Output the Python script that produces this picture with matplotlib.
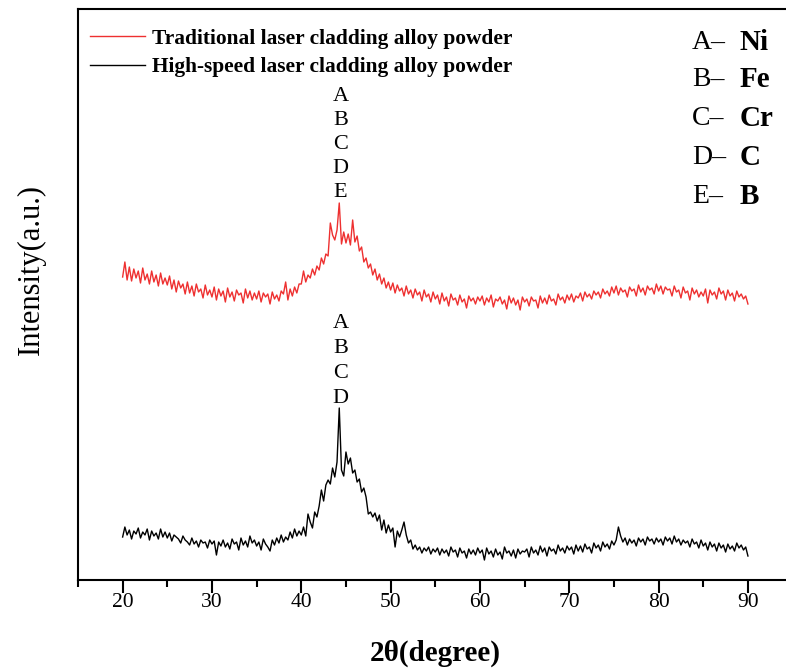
# ----------------------------------------------------------------------------
# XRD patterns of the two cladding alloy powders
# ----------------------------------------------------------------------------
import numpy as np
import matplotlib
matplotlib.use('Agg')
import matplotlib.pyplot as plt

# ----------------------------------------------------------------------------
# Data (2θ = 20..90 step 0.25, intensity in a.u.)
# ----------------------------------------------------------------------------
two_theta = np.arange(20, 90.001, 0.25)

traditional = [
    303, 318, 300, 313, 299, 311, 302, 309, 297, 312, 300, 306, 296, 309, 298, 305, 294, 307, 296, 302,
    295, 304, 291, 300, 288, 299, 292, 296, 286, 298, 287, 294, 284, 296, 288, 291, 282, 295, 285, 290,
    283, 293, 280, 291, 284, 289, 278, 292, 283, 288, 279, 290, 285, 287, 277, 291, 282, 289, 280, 287,
    281, 289, 278, 287, 283, 286, 276, 288, 281, 285, 279, 289, 286, 298, 280, 291, 284, 293, 287, 296,
    296, 309, 298, 305, 302, 311, 305, 314, 310, 322, 316, 326, 324, 357, 345, 340, 350, 377, 336, 348,
    337, 346, 335, 360, 338, 344, 329, 333, 318, 322, 312, 316, 305, 311, 300, 306, 296, 302, 292, 298,
    290, 297, 287, 295, 289, 292, 284, 294, 286, 290, 282, 291, 285, 288, 279, 290, 283, 286, 278, 288,
    281, 285, 276, 287, 279, 283, 274, 286, 280, 282, 275, 285, 278, 281, 272, 284, 279, 282, 276, 283,
    279, 284, 275, 282, 278, 285, 273, 281, 279, 283, 276, 280, 271, 284, 277, 282, 275, 280, 270, 283,
    278, 281, 274, 283, 279, 280, 272, 284, 277, 282, 276, 285, 279, 281, 275, 286, 280, 283, 277, 285,
    280, 286, 278, 284, 282, 287, 279, 288, 283, 286, 281, 289, 285, 288, 282, 291, 286, 289, 284, 293,
    287, 294, 285, 292, 288, 290, 283, 293, 289, 291, 284, 295, 288, 292, 285, 294, 290, 292, 286, 296,
    289, 294, 286, 293, 290, 291, 284, 294, 288, 290, 282, 293, 287, 289, 280, 292, 286, 290, 283, 288,
    284, 291, 277, 290, 285, 288, 281, 292, 286, 289, 280, 290, 284, 287, 279, 289, 283, 286, 281, 284,
    276,
]

high_speed = [
    43, 53, 45, 50, 41, 49, 46, 52, 42, 48, 45, 51, 40, 49, 44, 47, 41, 51, 43, 48,
    42, 47, 39, 45, 43, 41, 37, 44, 40, 38, 35, 42, 36, 39, 33, 40, 37, 38, 32, 40,
    36, 39, 25, 38, 34, 40, 33, 37, 31, 41, 36, 38, 30, 42, 35, 39, 33, 44, 37, 40,
    34, 38, 30, 41, 36, 33, 29, 40, 35, 42, 37, 45, 38, 43, 40, 48, 42, 51, 44, 49,
    45, 53, 44, 66, 58, 52, 68, 63, 74, 90, 79, 95, 100, 96, 112, 103, 118, 172, 110, 104,
    128, 116, 122, 107, 110, 98, 101, 88, 92, 83, 66, 68, 63, 67, 59, 65, 50, 60, 47, 55,
    48, 52, 33, 49, 43, 50, 58, 45, 37, 40, 31, 35, 30, 33, 27, 32, 29, 33, 26, 31,
    28, 32, 25, 31, 27, 30, 24, 33, 28, 30, 23, 32, 27, 29, 22, 31, 26, 30, 25, 32,
    27, 30, 20, 32, 26, 29, 23, 31, 25, 28, 21, 33, 27, 29, 24, 30, 22, 31, 26, 29,
    28, 31, 23, 33, 27, 30, 25, 34, 28, 32, 24, 33, 29, 31, 26, 35, 29, 32, 27, 34,
    30, 33, 26, 35, 29, 34, 28, 36, 31, 33, 27, 37, 32, 35, 29, 38, 33, 36, 31, 39,
    35, 40, 53, 44, 38, 42, 35, 41, 37, 40, 34, 42, 38, 41, 35, 43, 39, 41, 36, 42,
    38, 41, 35, 43, 39, 42, 36, 44, 38, 41, 35, 40, 37, 39, 33, 41, 36, 38, 32, 40,
    34, 37, 30, 38, 33, 36, 29, 37, 32, 35, 28, 36, 31, 34, 29, 37, 32, 35, 30, 33,
    24,
]

series_labels = ['Traditional laser cladding alloy powder',
                 'High-speed laser cladding alloy powder']
peak_position = 44.4
peak_letters_red = ['A', 'B', 'C', 'D', 'E']
peak_letters_black = ['A', 'B', 'C', 'D']
phase_keys = ['A', 'B', 'C', 'D', 'E']
phase_names = ['Ni', 'Fe', 'Cr', 'C', 'B']
x_ticks = [20, 30, 40, 50, 60, 70, 80, 90]

# ----------------------------------------------------------------------------
# Figure
# ----------------------------------------------------------------------------
plt.rcParams['font.family'] = 'Liberation Serif'

fig = plt.figure(figsize=(7.86, 6.71), dpi=100)
ax = fig.add_axes([0.0992, 0.1356, 0.9092, 0.8510])

ax.plot(two_theta, traditional, color='#ee3030', lw=1.0, label=series_labels[0])
ax.plot(two_theta, high_speed, color='black', lw=1.0, label=series_labels[1])

ax.set_xlim(15, 95)
ax.set_ylim(0, 571)

# axis styling
for side in ['left', 'bottom', 'top', 'right']:
    ax.spines[side].set_linewidth(1.5)
ax.set_yticks([])
ax.set_xticks(x_ticks)
ax.set_xticks(np.arange(15, 96, 10), minor=True)
ax.tick_params(axis='x', which='major', direction='out', length=9, width=1.5,
               labelsize=15.5, pad=0)
ax.tick_params(axis='x', which='minor', direction='out', length=5, width=1.5)

ax.set_xlabel('2θ(degree)', fontsize=21, fontweight='bold', labelpad=20)
ax.set_ylabel('Intensity(a.u.)', fontsize=22)
ax.yaxis.set_label_coords(-0.045, 0.543)

# peak labels
ax.text(peak_position, 378, '\n'.join(peak_letters_red), ha='center', va='bottom',
        fontsize=16, linespacing=1.36)
ax.text(peak_position, 172, '\n'.join(peak_letters_black), ha='center', va='bottom',
        fontsize=16, linespacing=1.42)

# phase list (top right)
row_y = [0.942, 0.877, 0.809, 0.740, 0.672]
for key, name, yy in zip(phase_keys, phase_names, row_y):
    ax.text(0.859, yy, key + '–', transform=ax.transAxes, fontsize=20, va='center')
    ax.text(0.926, yy, name, transform=ax.transAxes, fontsize=21,
            fontweight='bold', va='center')

# legend
leg = ax.legend(loc='upper left', bbox_to_anchor=(-0.003, 0.99), frameon=False,
                prop={'weight': 'bold', 'size': 15.4}, handlelength=2.6,
                handletextpad=0.33, labelspacing=0.4, borderaxespad=0.25)

fig.savefig('out.png', dpi=100)
